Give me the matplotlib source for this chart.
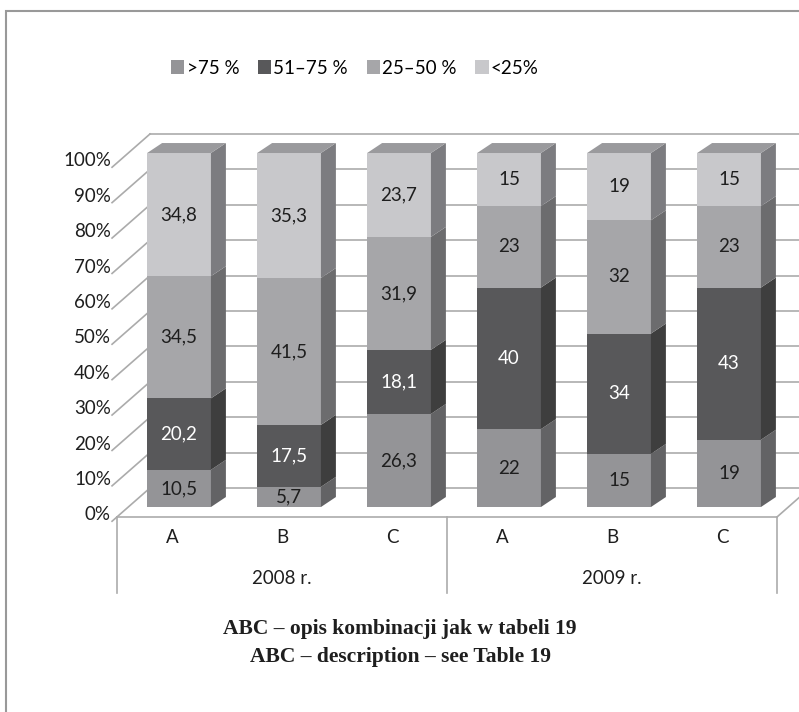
import matplotlib
matplotlib.use('Agg')
import matplotlib.pyplot as plt
from matplotlib.patches import Polygon, Rectangle, Patch

# data
categories = ['A', 'B', 'C', 'A', 'B', 'C']
years = ['2008 r.', '2009 r.']
series_names = ['>75 %', '51–75 %', '25–50 %', '<25%']
over75 = [10.5, 5.7, 26.3, 22, 15, 19]
r51_75 = [20.2, 17.5, 18.1, 40, 34, 43]
r25_50 = [34.5, 41.5, 31.9, 23, 32, 23]
under25 = [34.8, 35.3, 23.7, 15, 19, 15]
yticks = [0, 10, 20, 30, 40, 50, 60, 70, 80, 90, 100]

series = [over75, r51_75, r25_50, under25]
front_col = ['#949497', '#58585a', '#a6a6a9', '#c8c8cb']
side_col = ['#636365', '#3e3e3e', '#6c6c6e', '#7c7c80']
top_col = '#9a9a9d'
txt_col = ['#1e1e1e', '#ffffff', '#1e1e1e', '#1e1e1e']
fs = 13.5

plt.rcParams['font.family'] = ['Lato', 'DejaVu Sans']

fig = plt.figure(figsize=(7.99, 7.12), dpi=100)
ax = fig.add_axes([0, 0, 1, 1])
# 1 category = 110 px, 1 % = 3.54 px, front floor edge at pixel (172, 517)
ax.set_xlim(-172 / 110, (799 - 172) / 110)
ax.set_ylim((517 - 712) / 3.54, 517 / 3.54)
ax.axis('off')

# depth of the floor/walls and of the bars (data units)
wdx, wdy = 0.30, 8.2
bdx, bdy = 0.064, 2.82     # bar front offset
sdx, sdy = 0.136, 2.82     # bar side depth
bw = 0.58
grid_c = '#ababab'
n = len(categories)
left, right = -0.5, n - 0.5

# back wall gridlines + side wall diagonals
for g in yticks:
    ax.plot([left + wdx, 6.0], [g + wdy, g + wdy], color=grid_c, lw=1.2, zorder=1)
    ax.plot([left - 0.045, left + wdx], [g - 1.2, g + wdy], color=grid_c, lw=1.2, zorder=1)
    ax.text(-0.555, g + 0.6, f'{g}%', ha='right', va='center', fontsize=fs, color='#1e1e1e')

# floor front edge and right diagonal
ax.plot([left, right], [0, 0], color=grid_c, lw=1.2, zorder=1)
ax.plot([right, right + wdx], [0, wdy], color=grid_c, lw=1.2, zorder=1)

# category axis (two levels)
for xv in [left, 2.5, right]:
    ax.plot([xv, xv], [0, -21.5], color=grid_c, lw=1.2, zorder=1)
for i, c in enumerate(categories):
    ax.text(i, -5.8, c, ha='center', va='center', fontsize=fs, color='#1e1e1e')
for j, yr in enumerate(years):
    ax.text(1 + 3 * j, -17.3, yr, ha='center', va='center', fontsize=fs, color='#1e1e1e')

# 3D-looking stacked bars
for i in range(n):
    x0 = i + bdx - bw / 2
    x1 = x0 + bw
    base = 0
    for k, s in enumerate(series):
        v = s[i]
        yb, yt = base + bdy, base + v + bdy
        ax.add_patch(Rectangle((x0, yb), bw, v, facecolor=front_col[k], edgecolor='none', zorder=3))
        ax.add_patch(Polygon([(x1, yb), (x1 + sdx, yb + sdy), (x1 + sdx, yt + sdy), (x1, yt)],
                             closed=True, facecolor=side_col[k], edgecolor='none', zorder=3))
        lbl = f'{v:g}'.replace('.', ',')
        ax.text(i + bdx, (yb + yt) / 2, lbl, ha='center', va='center', fontsize=fs,
                color=txt_col[k], zorder=4)
        base += v
    ytop = base + bdy
    ax.add_patch(Polygon([(x0, ytop), (x0 + sdx, ytop + sdy), (x1 + sdx, ytop + sdy), (x1, ytop)],
                         closed=True, facecolor=top_col, edgecolor='none', zorder=3))

# legend
handles = [Patch(facecolor=front_col[k], edgecolor='none', label=series_names[k]) for k in range(4)]
fig.legend(handles=handles, loc='center', bbox_to_anchor=(355 / 799, 1 - 68 / 712), ncol=4,
           frameon=False, fontsize=fs, handlelength=0.7, handleheight=0.7,
           handletextpad=0.12, columnspacing=1.0)

# caption
fig.text(400 / 799, 1 - 629 / 712, 'ABC – opis kombinacji jak w tabeli 19', ha='center', va='center',
         fontsize=15.5, fontweight='bold', family='Liberation Serif', color='#1e1e1e')
fig.text(400 / 799, 1 - 657 / 712, 'ABC – description – see Table 19', ha='center', va='center',
         fontsize=15.5, fontweight='bold', family='Liberation Serif', color='#1e1e1e')

# outer frame (left and top edges visible)
fig.add_artist(Rectangle((6 / 799, -0.1), 1.1, 1 - 11 / 712 + 0.1, transform=fig.transFigure,
                         facecolor='none', edgecolor='#999999', lw=1.5))

fig.savefig('out.png', dpi=100)
